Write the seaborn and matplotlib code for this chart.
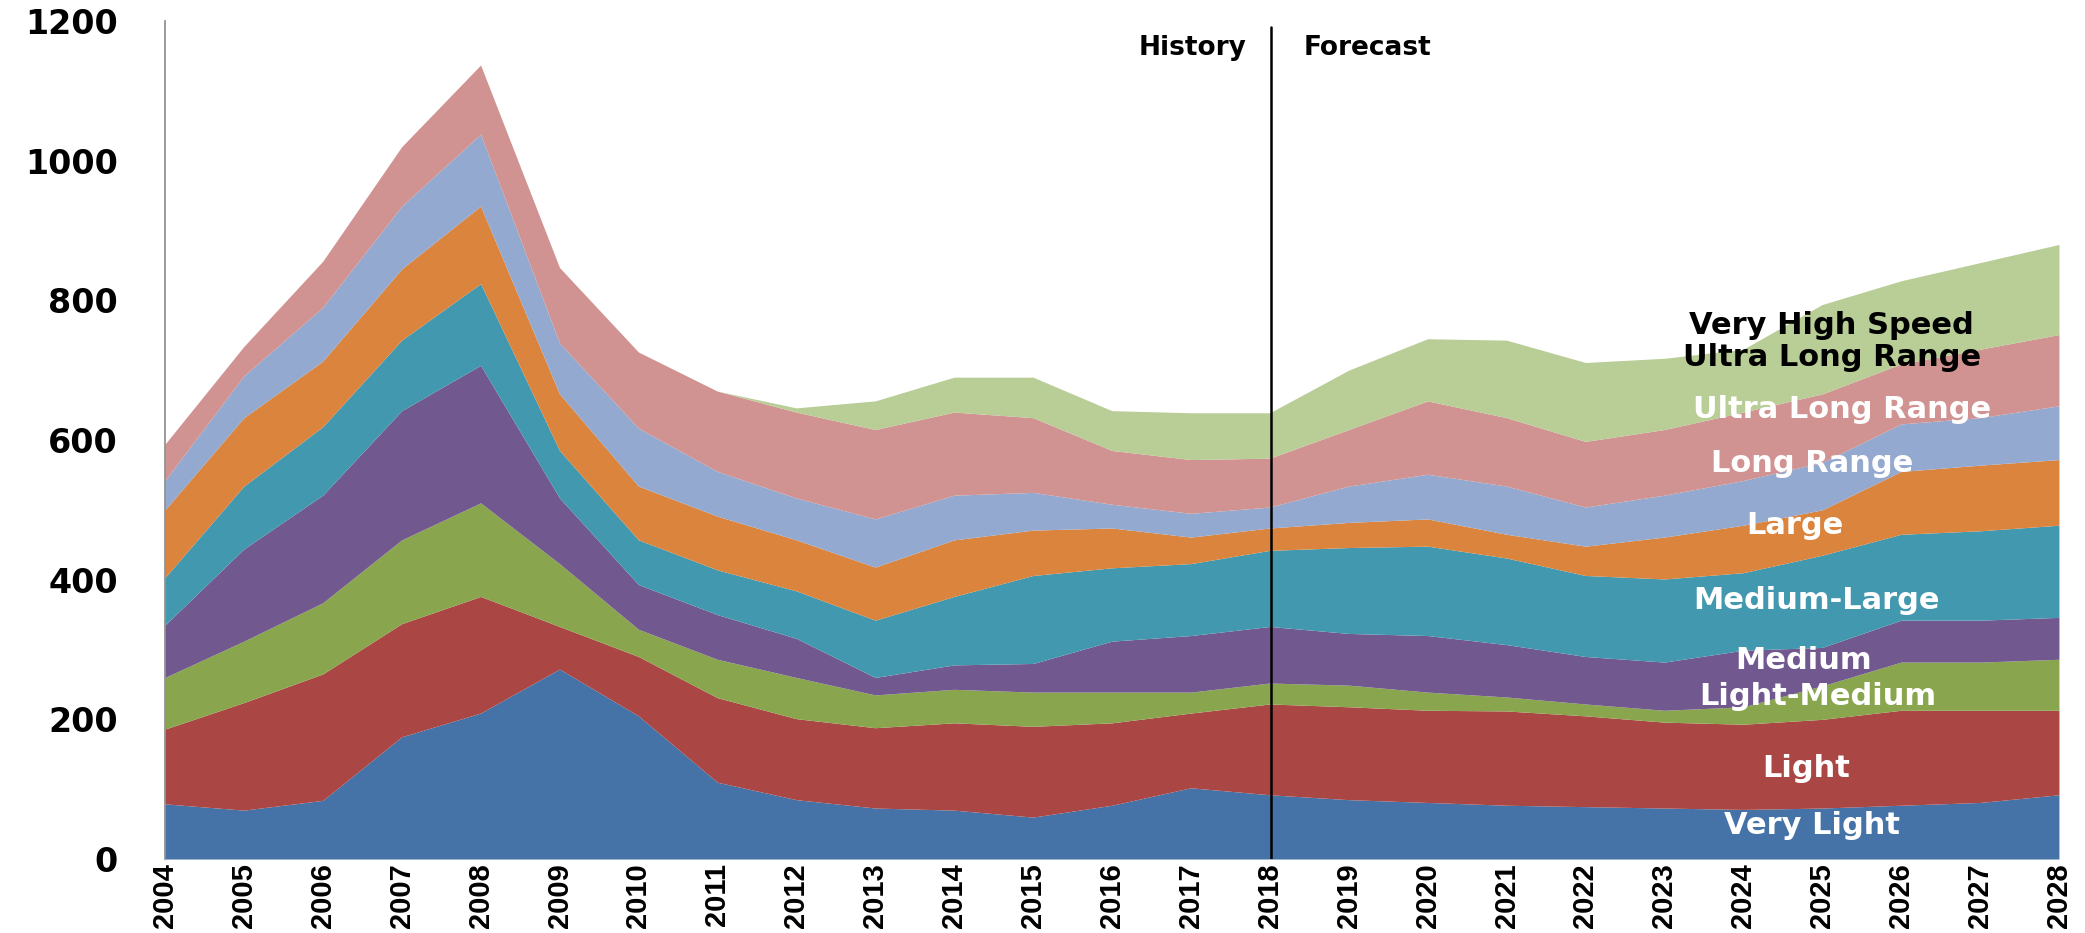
import numpy as np
import pandas as pd
import seaborn as sns
import matplotlib.pyplot as plt

years = list(range(2004, 2029))
very_light = [79, 70, 84, 175, 209, 272, 205, 110, 85, 73, 70, 60, 77, 102, 92, 85, 81, 77, 75, 73, 71, 73, 77, 81, 92]
light = [107, 154, 181, 162, 167, 61, 85, 121, 116, 115, 125, 130, 118, 107, 130, 133, 132, 135, 130, 123, 122, 127, 136, 132, 121]
light_medium = [74, 88, 102, 120, 134, 90, 39, 55, 59, 47, 48, 49, 44, 30, 30, 31, 26, 20, 17, 17, 25, 48, 69, 69, 73]
medium = [75, 132, 154, 185, 197, 94, 64, 64, 56, 25, 35, 41, 73, 81, 81, 74, 81, 75, 68, 69, 81, 55, 60, 60, 60]
medium_large = [68, 90, 98, 101, 117, 68, 64, 64, 68, 82, 98, 126, 105, 103, 109, 123, 128, 124, 116, 119, 111, 132, 123, 128, 132]
large = [97, 98, 94, 102, 111, 81, 77, 77, 73, 76, 81, 65, 57, 38, 32, 36, 39, 34, 42, 60, 68, 65, 90, 94, 94]
long_range = [42, 60, 77, 90, 103, 73, 83, 64, 60, 69, 64, 54, 34, 34, 30, 52, 64, 69, 56, 60, 64, 68, 68, 68, 77]
ultra_long = [52, 42, 66, 85, 99, 108, 109, 115, 123, 128, 119, 107, 77, 77, 70, 81, 105, 98, 94, 94, 98, 98, 86, 98, 102]
vhs_ultra_long = [0, 0, 0, 0, 0, 0, 0, 0, 6, 41, 50, 58, 57, 67, 65, 85, 89, 111, 113, 102, 90, 128, 119, 124, 129]

classes = ["Very Light", "Light", "Light-Medium", "Medium", "Medium-Large",
           "Large", "Long Range", "Ultra Long Range", "Very High Speed\nUltra Long Range"]
colors = ["#4572A7", "#AA4643", "#89A54E", "#71588F", "#4198AF",
          "#DB843D", "#93A9CF", "#D19392", "#B9CD96"]

df = pd.DataFrame({"year": years, "Very Light": very_light, "Light": light,
                   "Light-Medium": light_medium, "Medium": medium,
                   "Medium-Large": medium_large, "Large": large,
                   "Long Range": long_range, "Ultra Long Range": ultra_long,
                   "Very High Speed\nUltra Long Range": vhs_ultra_long})

# label positions inside the areas (x in years, y in units)
label_x = [2024.87, 2024.8, 2024.95, 2024.77, 2024.93, 2024.66, 2024.87, 2025.25, 2025.12]
label_y = [48, 130, 232, 284, 370, 478, 566, 644, 741]
label_colors = ["white"] * 8 + ["black"]

sns.set_style("white")
plt.rcParams['font.family'] = ['DejaVu Sans']

fig = plt.figure(figsize=(20.85, 9.33), dpi=100)
ax = fig.add_axes([0.0791, 0.0793, 0.9084, 0.8982])

ax.stackplot(df["year"], [df[c] for c in classes], colors=colors, linewidth=0)

for name, x, y, c in zip(classes, label_x, label_y, label_colors):
    ax.text(x, y, name, color=c, fontsize=22, fontweight='bold',
            ha='center', va='center', linespacing=1.1)

# history / forecast split
ax.plot([2018.02, 2018.02], [0, 1191], color='black', linewidth=1.8)
ax.text(2017.7, 1161, "History", fontsize=19, fontweight='bold', ha='right', va='center', color='black')
ax.text(2018.43, 1161, "Forecast", fontsize=19, fontweight='bold', ha='left', va='center', color='black')

ax.set_xlim(2004, 2028)
ax.set_ylim(0, 1200)
ax.set_yticks(range(0, 1201, 200))
ax.set_yticklabels([str(v) for v in range(0, 1201, 200)], fontsize=24, fontweight='bold', color='black')
ax.set_xticks(years)
ax.set_xticklabels([str(y) for y in years], rotation=90, fontsize=21, fontweight='bold',
                   family='Liberation Sans', color='black')
ax.tick_params(axis='y', length=0, pad=34)
ax.tick_params(axis='x', length=0, pad=3)

for s in ['top', 'right', 'bottom']:
    ax.spines[s].set_visible(False)
ax.spines['left'].set_color('#8a8a8a')
ax.spines['left'].set_linewidth(1.2)

fig.savefig("out.png", dpi=100)
